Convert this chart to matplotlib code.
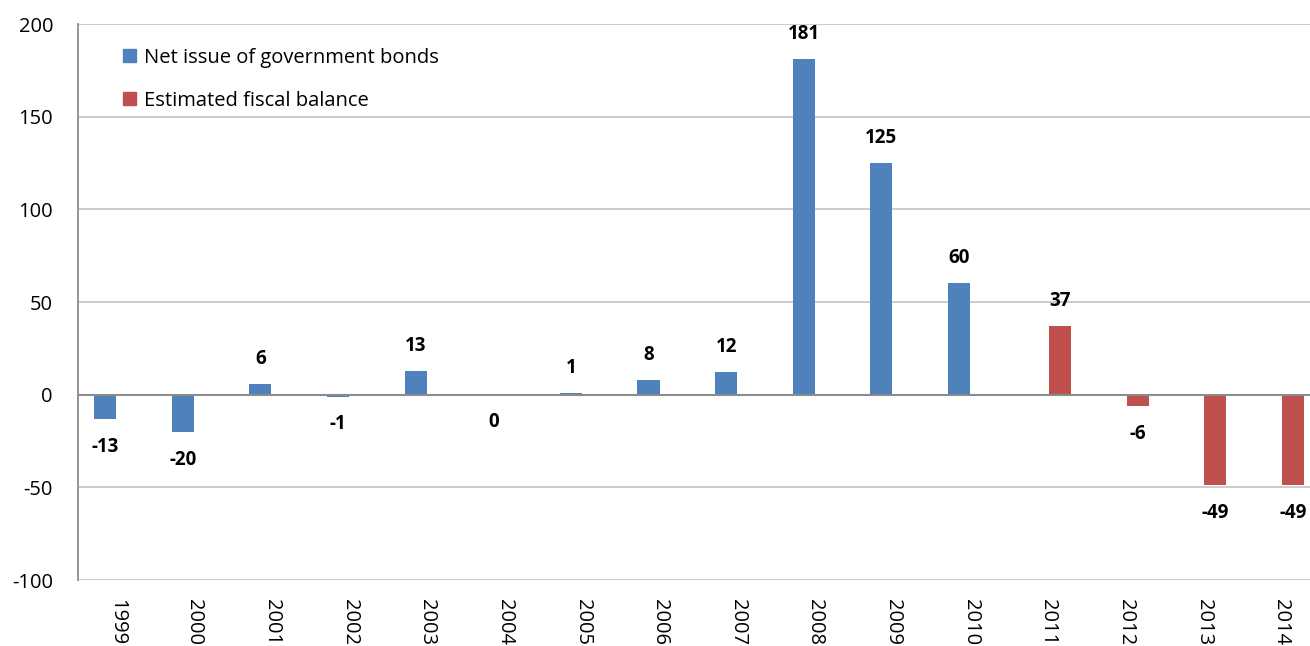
import numpy as np
import matplotlib
matplotlib.use("Agg")
import matplotlib.pyplot as plt
from matplotlib.patches import Patch

years = ["1999", "2000", "2001", "2002", "2003", "2004", "2005", "2006",
         "2007", "2008", "2009", "2010", "2011", "2012", "2013", "2014"]
net_issue = [-13, -20, 6, -1, 13, 0, 1, 8, 12, 181, 125, 60, None, None, None, None]
fiscal_balance = [None] * 12 + [37, -6, -49, -49]
y_ticks = [-100, -50, 0, 50, 100, 150, 200]

BLUE = "#4F81BD"
RED = "#C0504D"
FONT = "Open Sans"

W, H = 1310, 646
fig = plt.figure(figsize=(W / 100, H / 100), dpi=100)
ax = fig.add_axes([78 / W, 66 / H, (1320 - 78) / W, 556 / H])

x = np.arange(len(years))
bw = 0.285
off = 0.15

def draw(values, shift, color):
    xs = [xi + shift for xi, v in zip(x, values) if v is not None]
    vs = [v for v in values if v is not None]
    ax.bar(xs, vs, width=bw, color=color, zorder=3)
    for xi, v in zip(xs, vs):
        dy = 18 if v > 0 else -20
        ax.annotate(str(v), (xi, v), xytext=(0, dy),
                    textcoords="offset points", ha="center", va="center",
                    fontsize=13.5, fontweight="bold", family=FONT, color="black")

draw(net_issue, -off, BLUE)
draw(fiscal_balance, off, RED)

ax.set_xlim(-0.5, len(years) - 0.5)
ax.set_ylim(-100, 200)
ax.set_yticks(y_ticks)
ax.set_yticklabels([str(t) for t in y_ticks], family=FONT, fontsize=14.5)
ax.set_xticks(x)
ax.set_xticklabels(years, rotation=270, family=FONT, fontsize=14.5, va="top", ha="center")
ax.tick_params(axis="y", length=0, pad=18)
ax.tick_params(axis="x", length=0, pad=14)
for yt in y_ticks:
    if yt != 0:
        ax.axhline(yt, color="#C8C8C8", lw=1.3, zorder=1)
ax.axhline(0, color="#8C8C8C", lw=1.5, zorder=4)
for s in ["top", "right", "bottom"]:
    ax.spines[s].set_visible(False)
ax.spines["left"].set_color("#8C8C8C")
ax.spines["left"].set_linewidth(1.3)

handles = [Patch(color=BLUE), Patch(color=RED)]
leg = ax.legend(handles, ["Net issue of government bonds", "Estimated fiscal balance"],
                loc="upper left", bbox_to_anchor=(0.022, 0.99), frameon=False,
                prop={"family": FONT, "size": 14.5}, handlelength=0.6, handleheight=0.6,
                handletextpad=0.4, labelspacing=1.15)

fig.savefig("out.png", dpi=100)
